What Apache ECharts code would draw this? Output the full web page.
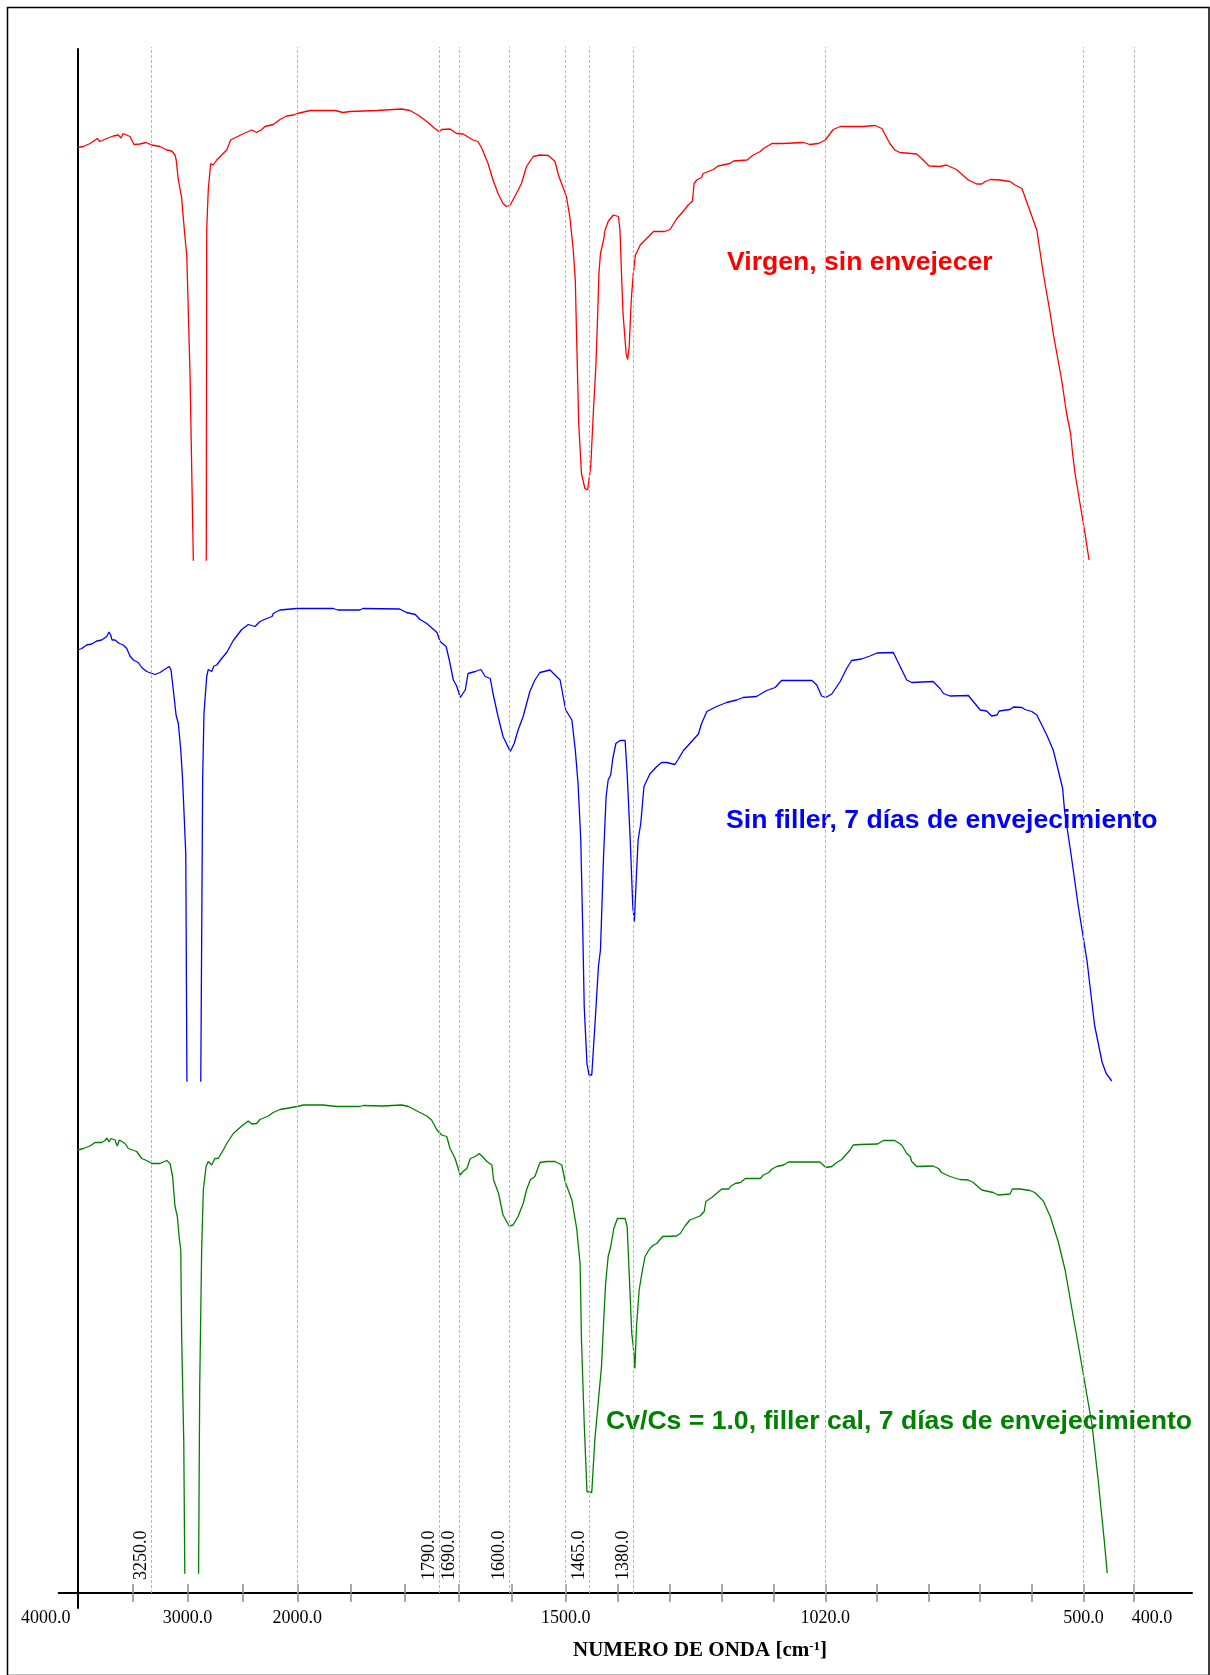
<!DOCTYPE html>
<html>
<head>
<meta charset="utf-8">
<script src="https://cdn.jsdelivr.net/npm/echarts@6/dist/echarts.min.js"></script>
<style>
  html, body { margin: 0; padding: 0; background: #ffffff; }
  #chart { width: 1210px; height: 1675px; }
</style>
</head>
<body>
<div id="chart"></div>
<script>
// ---------------- spectra (wavenumber in cm-1, transmittance in % of each band) ----------------
const virgenWn = [4000,3943,3875,3801,3774,3706,3639,3589,3561,3540,3521,3470,3429,3369,3308,3250,3192,3145,3110,3087,3079,3064,3041,3034,3022,3005,2977,2947,2885,2829,2825,2811,2789,2765,2734,2689,2643,2607,2581,2506,2415,2370,2324,2294,2219,2158,2097,2036,2000,1981,1944,1933,1922,1883,1846,1834,1822,1809,1799,1791,1780,1738,1705,1684,1675,1666,1657,1650,1639,1630,1621,1612,1606,1599,1588,1579,1570,1558,1546,1531,1519,1513,1504,1499,1494,1489,1486,1484,1481,1477,1472,1468,1463,1458,1453,1450,1447,1444,1438,1435,1429,1419,1409,1406,1403,1400,1394,1391,1388,1384,1380,1376,1367,1355,1342,1321,1311,1299,1285,1277,1269,1266,1261,1252,1249,1230,1221,1199,1192,1167,1155,1142,1136,1120,1099,1061,1049,1033,1020,1004,990,943,920,906,890,880,870,836,826,811,789,776,756,732,715,705,698,687,668,648,638,624,611,594,581,567,561,544,534,526,522,517,507,497,489];
const virgenT  = [82.5,82.7,83.3,84.3,83.7,84.3,84.8,85.0,84.4,85.3,85.0,84.7,83.1,83.2,83.5,83.0,82.7,82.0,81.8,81.0,80.0,76.0,72.5,70.0,66.0,60.8,37.2,0,-30,0,66,74,79.3,79,80,81,82,84,84.3,85.1,86,85.5,86.1,86.7,87.1,88.1,88.8,89,89.3,89.9,89.9,89.5,89.7,89.9,90.2,89.9,89,87.7,86.5,85.7,86.1,86.2,85.3,85.2,84.6,84,83.7,82.3,79.3,76,73.3,71.3,70.7,71,73.3,75.3,78.7,80.7,81,80.9,79.7,77,74.3,72.7,68.7,62,56,44,27.3,17.3,14.3,14,18.7,29.3,38.7,47.3,57.3,61.3,64,66,67.7,69,68.7,66,57.3,49.3,41.3,40.1,42.7,52,57.3,61,63,64.3,65.7,65.7,66.1,68.2,69.9,71,71.8,75.3,76,76.5,77.3,78.1,78.8,79.3,79.8,80,81,81.7,82.3,83.3,83.3,83.5,83.1,83.3,84,86.1,86.7,86.7,86.9,86.3,83.3,82,81.5,81.2,80.3,78.8,78.7,79,78.1,76,75.2,75.2,75.7,76.1,76,75.7,75,74.3,70.7,66,57.3,49.3,45.3,36,29.3,25.3,21.3,17.3,11.3,5.3,0];

const sinFillerWn = [4000,3959,3909,3858,3807,3757,3706,3683,3666,3652,3622,3578,3538,3503,3470,3436,3386,3351,3301,3227,3192,3150,3127,3115,3099,3080,3064,3047,3034,3012,3004,2940,2879,2862,2850,2825,2811,2780,2759,2734,2689,2643,2583,2506,2446,2385,2340,2279,2230,2219,2158,2006,1947,1940,1908,1903,1849,1839,1826,1819,1809,1794,1788,1758,1742,1722,1705,1689,1686,1680,1675,1662,1652,1644,1635,1630,1621,1612,1599,1592,1585,1576,1564,1555,1546,1528,1519,1510,1500,1491,1486,1482,1478,1475,1473,1469,1466,1461,1455,1448,1444,1438,1433,1429,1424,1420,1414,1406,1396,1392,1386,1381,1378,1374,1371,1366,1360,1349,1336,1327,1317,1302,1296,1286,1268,1258,1252,1242,1224,1205,1186,1174,1149,1130,1114,1102,1045,1036,1027,1019,1007,990,977,967,947,930,916,883,856,846,803,789,782,769,732,722,708,695,685,674,670,648,641,624,618,604,594,574,561,551,542,538,525,510,493,478,463,455,444];
const sinFillerT  = [86.2,86.5,87.2,87.4,88,88.2,88.9,89.8,89.2,88.2,88.2,87.5,87.2,86.5,85,84.2,83.7,82.7,81.9,81.3,81.7,82.5,82.9,82.2,78.2,73.2,71.5,66.2,60.2,45.4,0,-30,0,60.2,73.5,80.9,82.3,81.9,83,83.2,84.5,85.7,88.1,90.3,91.3,90.9,91.9,92.5,92.9,93.5,94.2,94.5,94.5,94.2,94.2,94.5,94.4,93.7,93.3,92.3,91.5,89.7,87.9,86.9,84.2,80.2,79,76.7,77.2,78.2,81.5,81.9,82.3,80.9,80.5,77.5,72.9,68.9,65.9,67.5,70.2,72.9,77.9,80.2,81.7,82.2,81.2,80.2,74.2,72.2,66.2,59.5,48.2,29.5,14.9,3.5,1.2,1.2,10.9,22.9,26.2,44.9,56.9,60.2,61.2,64.5,67.5,68.1,68.1,61.5,48.2,34.9,31.9,41.5,48.2,51.5,58.9,61.4,62.9,63.7,63.7,63.3,64.3,66.1,68.2,69.4,71.5,73.9,74.9,75.7,76.2,76.7,76.9,78.1,78.7,80.1,80.1,79.2,77,76.7,77.4,79.9,82.5,84.1,84.4,85,85.6,85.7,80.2,79.7,79.9,78.5,77.5,77,77.1,75.9,74.2,74,73,73.2,74,74.3,74.8,74.7,74.3,73.9,73.2,69.2,66.2,62.2,58.5,53.9,45.3,34.6,24,11.1,3.7,1.5,0];

const fillerCalWn = [4000,3943,3875,3825,3757,3723,3703,3683,3663,3622,3599,3578,3521,3487,3402,3351,3301,3250,3192,3145,3122,3104,3087,3071,3057,3047,3041,3026,3019,2960,2899,2889,2871,2856,2831,2811,2780,2750,2720,2674,2643,2583,2506,2446,2415,2370,2340,2264,2219,2158,2000,1991,1962,1942,1908,1903,1873,1846,1836,1822,1809,1802,1794,1780,1755,1738,1713,1689,1684,1677,1671,1662,1655,1650,1641,1632,1629,1620,1612,1601,1594,1585,1576,1570,1563,1555,1546,1534,1519,1507,1501,1491,1484,1479,1477,1473,1469,1461,1455,1448,1442,1438,1434,1429,1424,1418,1411,1396,1392,1388,1383,1380,1377,1374,1369,1364,1358,1349,1342,1336,1325,1299,1292,1283,1274,1255,1247,1244,1233,1214,1201,1198,1189,1179,1170,1142,1136,1126,1120,1111,1098,1089,1030,1019,1007,997,987,970,964,950,915,903,880,866,856,849,846,836,803,792,786,769,749,732,722,705,682,672,648,643,628,608,598,581,567,551,537,523,507,495,483,471,459,453];
const fillerCalT  = [84.6,84.9,85.4,86.1,86.1,86.5,87,86.2,86.9,86.6,85.4,86.6,85.9,84.9,84.3,82.9,82.5,81.9,81.9,82.5,81.9,79.3,73.3,71.3,66.8,64.6,47.6,26.2,0,-30,0,37,64.6,76.6,81.3,82.3,81.6,82.9,82.9,84.6,85.9,87.9,89.4,90.4,89.8,89.9,90.7,91.4,92.1,92.7,93.3,93.6,93.6,93.3,93.3,93.5,93.4,93.6,93.3,92.3,91.4,90.6,88.6,87.6,87.3,84.9,82.9,79.6,80.3,80.9,82.9,83.3,83.9,83.4,82.3,81.6,78.6,75.9,71.6,69.4,69.6,71.3,73.9,76.6,78.7,79.3,82.1,82.3,82.3,81.6,78.3,74.6,68.9,61.9,46.6,29.9,16.3,16.1,26.6,34.6,41.3,49.9,57.9,63.3,65.3,68.9,70.9,70.9,69.3,59.9,47.9,45.3,40.9,49.3,56.6,59.9,63.3,64.9,65.6,65.9,67.3,67.4,67.9,69.4,70.6,71.4,72.3,74.3,75.1,76.8,76.8,77.3,77.9,78.1,78.9,78.9,79.6,80.1,80.8,81.3,81.6,82.2,82.2,81.1,81.3,82.1,82.7,84.6,85.6,85.7,85.8,86.5,86.5,85.6,83.9,83.3,82.3,81.3,81.4,80.9,80.1,79.3,78.7,78.6,78.1,76.6,76.1,75.6,75.8,76.8,76.8,76.5,76.1,74.4,71.3,66.3,60.6,52.6,43.6,36.6,29.6,18.6,6.6,0];

// ---------------- axis annotations ----------------
const axisLabelWn  = [4000, 3000, 2000, 1500, 1020, 500, 400];
const markedBandWn = [3250, 1790, 1690, 1600, 1465, 1380];
const plainGridWn  = [2000, 1500, 1020, 500, 400];
// tick divisions between labelled wavenumbers: [from, to, number of intervals]
const tickSegments = [[4000, 2000, 4], [2000, 1500, 5], [1500, 1020, 5], [1020, 500, 5], [500, 400, 1]];

const seriesNames = ['Virgen, sin envejecer', 'Sin filler, 7 días de envejecimiento', 'Cv/Cs = 1.0, filler cal, 7 días de envejecimiento'];

// ---------------- horizontal scale of the instrument plot ----------------
// piecewise-linear: wavenumber -> distance (px) from the 4000 cm-1 end of the axis
const SCALE_WN  = [4000, 3250, 3000, 2000, 1790, 1690, 1600, 1500, 1465, 1380, 1020, 500, 400];
const SCALE_POS = [0, 74.0, 109.8, 219.6, 362.0, 382.0, 432.0, 488.0, 512.0, 555.6, 747.6, 1005.8, 1056.3];

function wnToPos(w) {
  const n = SCALE_WN.length;
  for (let i = 0; i < n - 1; i++) {
    const a = SCALE_WN[i], b = SCALE_WN[i + 1];
    if ((w <= a && w >= b) || i === n - 2) {
      return SCALE_POS[i] + (a - w) / (a - b) * (SCALE_POS[i + 1] - SCALE_POS[i]);
    }
  }
  return SCALE_POS[0];
}

function tickPositions() {
  const out = [];
  tickSegments.forEach(function (seg) {
    const p0 = wnToPos(seg[0]), p1 = wnToPos(seg[1]);
    for (let k = (out.length ? 1 : 0); k <= seg[2]; k++) out.push(p0 + (p1 - p0) * k / seg[2]);
  });
  return out.filter(function (p) { return p > 0.5; });
}

function wnAtPos(p, list) {
  for (let i = 0; i < list.length; i++) if (Math.abs(wnToPos(list[i]) - p) < 0.01) return list[i];
  return null;
}

// ---------------- layout ----------------
const X_MIN = -19.1, X_MAX = 1114.3;            // axis line runs a little past both ends
const PLOT_LEFT = 58.6, PLOT_RIGHT = 18;
const SERIF = '"Liberation Serif", "Times New Roman", serif';
const SANS = '"Liberation Sans", Arial, sans-serif';
const colors = ['#ff0000', '#0000ff', '#008000'];
const bands = [{ top: 60, height: 500 }, { top: 581, height: 500 }, { top: 1073, height: 500 }];

const ticks = tickPositions();

const grids = [
  { left: PLOT_LEFT, right: PLOT_RIGHT, top: 49, bottom: 67 },   // frame axes
  { left: PLOT_LEFT, right: PLOT_RIGHT, top: 47, bottom: 82 }    // reference lines
].concat(bands.map(function (b) { return { left: PLOT_LEFT, right: PLOT_RIGHT, top: b.top, height: b.height }; }));

const hiddenX = function (gi) {
  return { type: 'value', gridIndex: gi, min: X_MIN, max: X_MAX, show: false };
};
const hiddenY = function (gi, max) {
  return { type: 'value', gridIndex: gi, min: 0, max: max, show: false };
};

const xAxes = [
  {
    type: 'value', gridIndex: 0, min: X_MIN, max: X_MAX, position: 'bottom', offset: -15,
    axisLine: { onZero: false, lineStyle: { color: '#000', width: 2 } },
    axisTick: { show: true, customValues: ticks, length: 9, lineStyle: { color: '#8a8a8a', width: 1.5 } },
    axisLabel: {
      customValues: axisLabelWn.map(wnToPos), margin: 16,
      fontFamily: SERIF, fontSize: 18, color: '#000',
      formatter: function (v) {
        const w = wnAtPos(v, axisLabelWn);
        if (w === null) return '';
        const t = w.toFixed(1);
        if (w === axisLabelWn[0]) return '{l|' + t + '}';
        if (w === axisLabelWn[axisLabelWn.length - 1]) return '{r|' + t + '}';
        return t;
      },
      rich: {
        l: { fontFamily: SERIF, fontSize: 18, color: '#000', padding: [0, 64, 0, 0] },
        r: { fontFamily: SERIF, fontSize: 18, color: '#000', padding: [0, 0, 0, 36] }
      }
    },
    splitLine: { show: false }
  },
  {
    type: 'value', gridIndex: 0, min: X_MIN, max: X_MAX, position: 'bottom', offset: -15,
    axisLine: { show: false, onZero: false },
    axisTick: { show: true, inside: true, customValues: ticks, length: 9, lineStyle: { color: '#8a8a8a', width: 1.5 } },
    axisLabel: { show: false },
    splitLine: { show: false }
  },
  hiddenX(1), hiddenX(2), hiddenX(3), hiddenX(4)
];

const yAxes = [
  {
    type: 'value', gridIndex: 0, min: 0, max: 1,
    axisLine: { show: true, onZero: true, onZeroAxisIndex: 0, lineStyle: { color: '#000', width: 2 } },
    axisTick: { show: false }, axisLabel: { show: false }, splitLine: { show: false }
  },
  hiddenY(1, 1), hiddenY(2, 100), hiddenY(3, 100), hiddenY(4, 100)
];

const refLines = markedBandWn.map(function (w) {
  return {
    xAxis: wnToPos(w),
    label: {
      show: true, formatter: w.toFixed(1), position: 'insideStartTop', distance: [13, 1],
      fontFamily: SERIF, fontSize: 18, color: '#000'
    }
  };
}).concat(plainGridWn.map(function (w) {
  return { xAxis: wnToPos(w), label: { show: false } };
}));

const spectra = [[virgenWn, virgenT], [sinFillerWn, sinFillerT], [fillerCalWn, fillerCalT]];

const series = [{
  type: 'line', xAxisIndex: 2, yAxisIndex: 1, data: [], silent: true,
  markLine: {
    silent: true, symbol: ['none', 'none'], animation: false,
    lineStyle: { color: '#b8b8b8', width: 1, type: [3, 2] },
    data: refLines
  }
}].concat(spectra.map(function (s, i) {
  return {
    name: seriesNames[i], type: 'line', xAxisIndex: 3 + i, yAxisIndex: 2 + i,
    data: s[0].map(function (w, k) { return [wnToPos(w), s[1][k]]; }),
    showSymbol: false, symbol: 'none', clip: true, silent: true,
    lineStyle: { color: colors[i], width: 1.3 }
  };
}));

const textPos = [[727, 263], [726, 821], [606, 1422]];

const graphics = [
  {
    type: 'rect', silent: true,
    shape: { x: 7.5, y: 7.5, width: 1201.5, height: 1668 },
    style: { fill: 'none', stroke: '#000', lineWidth: 1.5 }
  },
  {
    type: 'text', silent: true, x: 700, y: 1651,
    style: {
      text: '{a|NUMERO DE ONDA [cm}{s|-1}{a|]}', align: 'center', verticalAlign: 'middle',
      rich: {
        a: { fontFamily: SERIF, fontWeight: 'bold', fontSize: 21, fill: '#000', color: '#000' },
        s: { fontFamily: SERIF, fontWeight: 'bold', fontSize: 13, fill: '#000', color: '#000', verticalAlign: 'top' }
      }
    }
  }
].concat(seriesNames.map(function (name, i) {
  return {
    type: 'text', silent: true, x: textPos[i][0], y: textPos[i][1],
    style: {
      text: name, fill: colors[i], fontFamily: SANS, fontWeight: 'bold', fontSize: 26.6,
      align: 'left', verticalAlign: 'middle'
    }
  };
}));

const chart = echarts.init(document.getElementById('chart'));
chart.setOption({
  animation: false,
  backgroundColor: '#ffffff',
  grid: grids,
  xAxis: xAxes,
  yAxis: yAxes,
  series: series,
  graphic: graphics
});
</script>
</body>
</html>
